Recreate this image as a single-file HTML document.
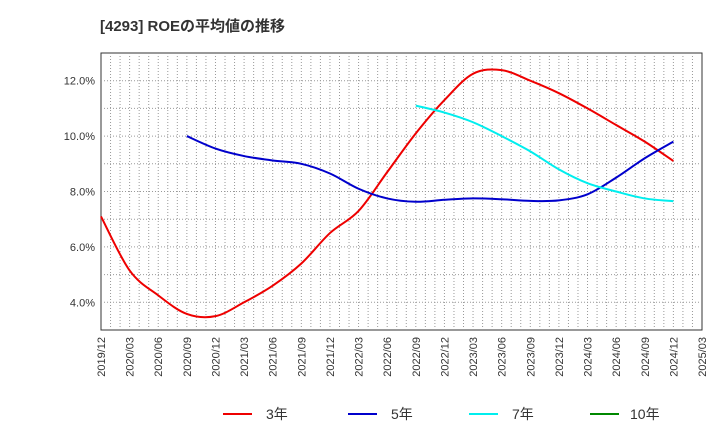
<!DOCTYPE html>
<html><head><meta charset="utf-8"><style>
body{margin:0;background:#fff;font-family:"Liberation Sans","Noto Sans CJK JP",sans-serif;}
</style></head><body>
<svg width="720" height="440" xmlns="http://www.w3.org/2000/svg" font-family="Liberation Sans, Noto Sans CJK JP, sans-serif">
<text x="100" y="31" font-size="15" font-weight="bold" fill="#333">[4293]  ROEの平均値の推移</text>
<g id="grid"></g><g id="axes"></g><g id="series"></g>
<g font-size="14" fill="#333">
<g><line x1="223" y1="414" x2="252" y2="414" stroke="#e00" stroke-width="2"/><text x="266" y="419">3年</text></g>
<g><line x1="348" y1="414" x2="377" y2="414" stroke="#00c" stroke-width="2"/><text x="391" y="419">5年</text></g>
<g><line x1="469" y1="414" x2="498" y2="414" stroke="#0ee" stroke-width="2"/><text x="512" y="419">7年</text></g>
<g><line x1="590" y1="414" x2="619" y2="414" stroke="#080" stroke-width="2"/><text x="630" y="419">10年</text></g>
</g>
</svg>
<script>
const xLabels=["2019/12","2020/03","2020/06","2020/09","2020/12","2021/03","2021/06","2021/09","2021/12","2022/03","2022/06","2022/09","2022/12","2023/03","2023/06","2023/09","2023/12","2024/03","2024/06","2024/09","2024/12","2025/03"];
const yTicks=[4,6,8,10,12];
const s3q=[0,1,2,3,4,5,6,7,8,9,10,11,12,13,14,15,16,17,18,19,20];
const s3v=[7.1,5.15,4.25,3.58,3.5,4.0,4.6,5.4,6.5,7.3,8.7,10.1,11.3,12.25,12.38,12.0,11.55,11.0,10.4,9.8,9.1];
const s5q=[3,4,5,6,7,8,9,10,11,12,13,14,15,16,17,18,19,20];
const s5v=[10.0,9.55,9.28,9.12,9.0,8.65,8.1,7.75,7.63,7.7,7.75,7.72,7.66,7.68,7.9,8.5,9.2,9.8];
const s7q=[11,12,13,14,15,16,17,18,19,20];
const s7v=[11.1,10.85,10.5,10.0,9.45,8.8,8.3,8.0,7.75,7.65];
const x0=101,x1=702,y0=53,y1=330,yMin=3,yMax=13;
const X=q=>x0+(x1-x0)*q/21, Y=v=>y1-(v-yMin)/(yMax-yMin)*(y1-y0);
const NS="http://www.w3.org/2000/svg";
function mk(t,a,p){const e=document.createElementNS(NS,t);for(const k in a)e.setAttribute(k,a[k]);p.appendChild(e);return e;}
const grid=document.getElementById('grid'),axes=document.getElementById('axes'),ser=document.getElementById('series');
mk('rect',{x:x0,y:y0,width:x1-x0,height:y1-y0,fill:'#fff',stroke:'#333'},grid);
for(let m=1;m<63;m++){const l=mk('line',{x1:X(m/3),x2:X(m/3),y1:y0,y2:y1,stroke:'#999','stroke-dasharray':'1,2'},grid);

}
for(let v=4;v<=12;v+=1){const l=mk('line',{x1:x0,x2:x1,y1:Y(v),y2:Y(v),stroke:'#999','stroke-dasharray':'1,2'},grid);

}
yTicks.forEach(v=>{const t=mk('text',{x:x0-6,y:Y(v)+4,'text-anchor':'end','font-size':11,fill:'#333'},axes);t.textContent=v.toFixed(1)+'%';

});
xLabels.forEach((s,i)=>{const x=X(i)+4,y=y1+7;const t=mk('text',{x:x,y:y,'text-anchor':'end','font-size':11,fill:'#333',transform:`rotate(-90 ${x} ${y})`},axes);t.textContent=s;

});
function path(qs,vs){const p=qs.map((q,i)=>[X(q),Y(vs[i])]);let d=`M${p[0][0]},${p[0][1]}`;
for(let i=0;i<p.length-1;i++){const a=p[i-1]||p[i],b=p[i],c=p[i+1],e=p[i+2]||c;
d+=` C${b[0]+(c[0]-a[0])/6},${b[1]+(c[1]-a[1])/6} ${c[0]-(e[0]-b[0])/6},${c[1]-(e[1]-b[1])/6} ${c[0]},${c[1]}`;}return d;}
[[s3q,s3v,'#e00','series-3y'],[s5q,s5v,'#00c','series-5y'],[s7q,s7v,'#0ee','series-7y']].forEach(([q,v,c,n])=>{
const e=mk('path',{d:path(q,v),fill:'none',stroke:c,'stroke-width':2},ser);

});
</script>
</body></html>
